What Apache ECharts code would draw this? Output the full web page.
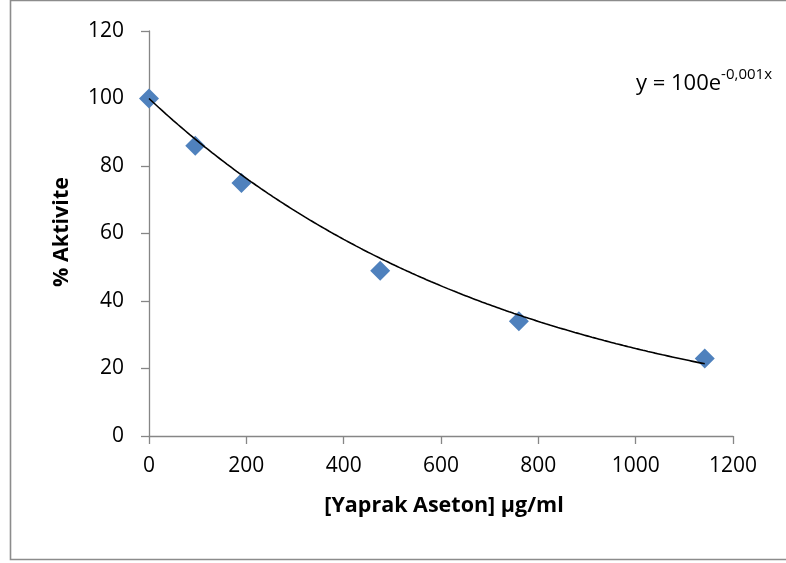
<!DOCTYPE html>
<html>
<head>
<meta charset="utf-8">
<script src="https://cdn.jsdelivr.net/npm/echarts@6/dist/echarts.min.js"></script>
<style>
html,body{margin:0;padding:0;background:#fff;}
#chart{width:786px;height:563px;}
</style>
</head>
<body>
<div id="chart"></div>
<script>
// Data
const concentrations = [0, 95, 190, 475, 760, 1142];
const activities = [100, 86, 75, 49, 34, 23];
const xTicks = [0, 200, 400, 600, 800, 1000, 1200];
const yTicks = [0, 20, 40, 60, 80, 100, 120];
const trendIntercept = 100; // Excel trendline with fixed intercept
const xTitle = '[Yaprak Aseton] µg/ml';
const yTitle = '% Aktivite';
const eqMain = 'y = 100e';
const eqSup = '-0,001x';

// Exponential fit with fixed intercept: ln(y/A) = b x
let sxl = 0, sxx = 0;
for (let i = 0; i < concentrations.length; i++) {
  const x = concentrations[i];
  sxl += x * Math.log(activities[i] / trendIntercept);
  sxx += x * x;
}
const b = sxl / sxx;
const trend = [];
const xEnd = concentrations[concentrations.length - 1];
for (let x = 0; x <= xEnd; x += 5) trend.push([x, trendIntercept * Math.exp(b * x)]);
trend.push([xEnd, trendIntercept * Math.exp(b * xEnd)]);

const chart = echarts.init(document.getElementById('chart'));
const font = '"Open Sans", sans-serif';
chart.setOption({
  animation: false,
  backgroundColor: '#fff',
  grid: { left: 149, right: 53, top: 31, bottom: 127 },
  xAxis: {
    type: 'value', min: xTicks[0], max: xTicks[xTicks.length - 1], interval: 200,
    axisLine: { show: true, lineStyle: { color: '#868686', width: 1.3 } },
    axisTick: { show: true, length: 8, lineStyle: { color: '#868686', width: 1.3 } },
    splitLine: { show: false },
    axisLabel: { color: '#000', fontSize: 21, fontFamily: font, margin: 20, formatter: v => String(v) }
  },
  yAxis: {
    type: 'value', min: yTicks[0], max: yTicks[yTicks.length - 1], interval: 20,
    axisLine: { show: true, lineStyle: { color: '#868686', width: 1.3 } },
    axisTick: { show: true, length: 8, lineStyle: { color: '#868686', width: 1.3 } },
    splitLine: { show: false },
    axisLabel: { color: '#000', fontSize: 21, fontFamily: font, margin: 25, formatter: v => String(v) }
  },
  series: [
    {
      type: 'scatter',
      data: concentrations.map((x, i) => [x, activities[i]]),
      symbol: 'diamond', symbolSize: 20,
      itemStyle: { color: '#4F81BD', opacity: 1 }, z: 2
    },
    {
      type: 'line', data: trend, showSymbol: false, symbol: 'none',
      lineStyle: { color: '#000', width: 1.6 }, z: 3, silent: true
    }
  ],
  graphic: [
    { type: 'rect', shape: { x: 10.5, y: 0.5, width: 800, height: 559 },
      style: { fill: 'none', stroke: '#8c8c8c', lineWidth: 1.6 }, silent: true },
    { type: 'text', x: 444, y: 506,
      style: { text: xTitle, font: 'bold 21.5px ' + font, fill: '#000', textAlign: 'center', textVerticalAlign: 'middle' } },
    { type: 'text', x: 62, y: 232, rotation: Math.PI / 2,
      style: { text: yTitle, font: 'bold 21.5px ' + font, fill: '#000', textAlign: 'center', textVerticalAlign: 'middle' } },
    { type: 'text', x: 636, y: 81,
      style: {
        text: '{m|' + eqMain + '}{s|' + eqSup + '}',
        rich: {
          m: { fontSize: 22, fontFamily: font, fill: '#000', verticalAlign: 'bottom' },
          s: { fontSize: 15, fontFamily: font, fill: '#000', verticalAlign: 'top', padding: [0, 0, 12, 0] }
        },
        textVerticalAlign: 'middle'
      } }
  ]
});
</script>
</body>
</html>
